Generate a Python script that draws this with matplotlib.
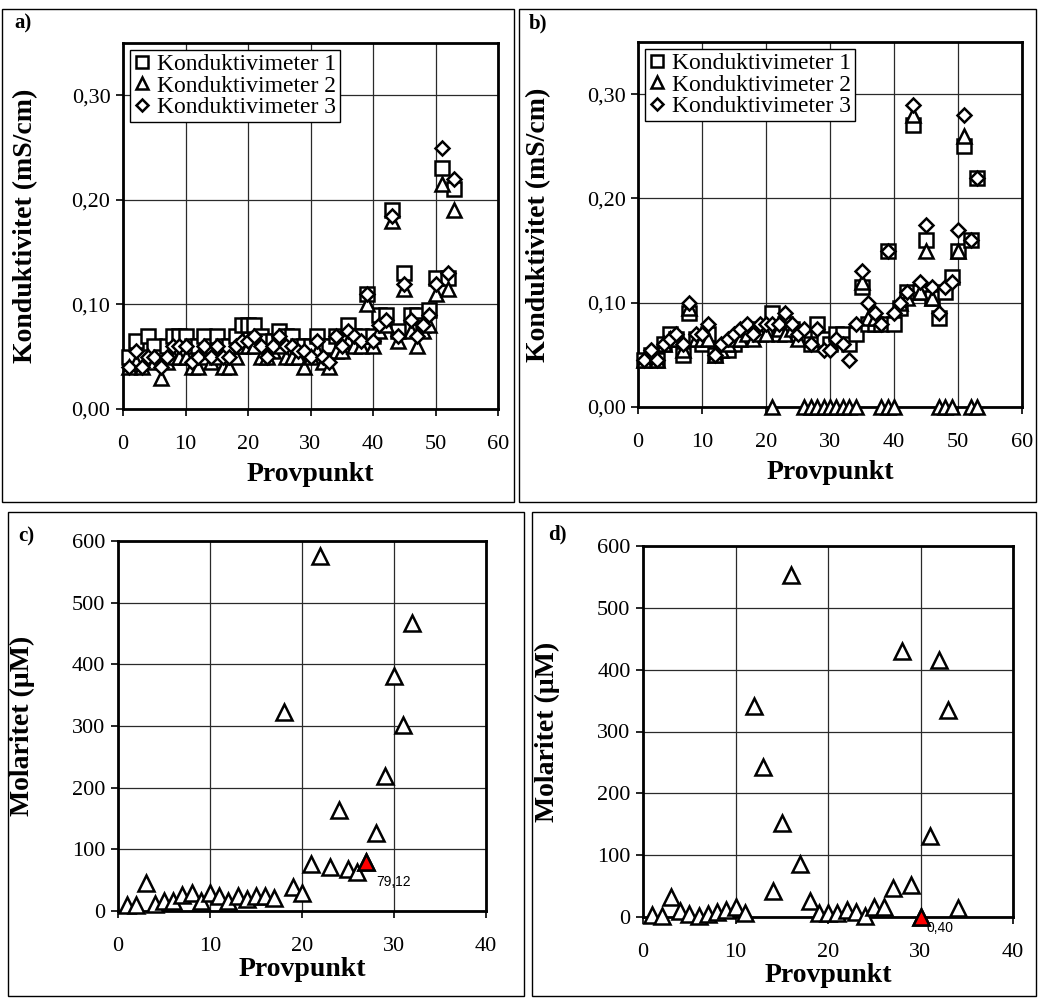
import matplotlib
matplotlib.use("Agg")
import matplotlib.pyplot as plt
from matplotlib.patches import Rectangle
from matplotlib.ticker import FuncFormatter

plt.rcParams["font.family"] = ["Liberation Serif", "DejaVu Serif"]

# ---------------------------------------------------------------------------
# Data
# ---------------------------------------------------------------------------
punkt_ab = list(range(1, 54))

a_k1 = [0.050, 0.065, 0.050, 0.070, 0.060, 0.050, 0.060, 0.070, 0.070, 0.070,
        0.060, 0.060, 0.070, 0.060, 0.070, 0.060, 0.060, 0.070, 0.080, 0.080,
        0.080, 0.070, 0.065, 0.065, 0.075, 0.070, 0.070, 0.060, 0.060, 0.060,
        0.070, 0.060, 0.060, 0.070, 0.065, 0.080, 0.070, 0.070, 0.110, 0.070,
        0.090, 0.090, 0.190, 0.075, 0.130, 0.090, 0.090, 0.080, 0.095, 0.125,
        0.230, 0.125, 0.210]
a_k2 = [0.040, 0.045, 0.040, 0.050, 0.045, 0.030, 0.045, 0.050, 0.050, 0.050,
        0.040, 0.040, 0.050, 0.045, 0.050, 0.040, 0.040, 0.050, 0.060, 0.060,
        0.060, 0.050, 0.050, 0.055, 0.060, 0.050, 0.050, 0.050, 0.040, 0.050,
        0.055, 0.045, 0.040, 0.055, 0.055, 0.065, 0.060, 0.060, 0.100, 0.060,
        0.075, 0.080, 0.180, 0.065, 0.115, 0.075, 0.060, 0.075, 0.080, 0.110,
        0.215, 0.115, 0.190]
a_k3 = [0.040, 0.055, 0.040, 0.050, 0.050, 0.040, 0.050, 0.060, 0.060, 0.060,
        0.045, 0.050, 0.060, 0.050, 0.060, 0.050, 0.050, 0.060, 0.065, 0.065,
        0.070, 0.060, 0.050, 0.060, 0.070, 0.060, 0.060, 0.055, 0.055, 0.050,
        0.065, 0.050, 0.045, 0.070, 0.060, 0.075, 0.070, 0.065, 0.110, 0.065,
        0.080, 0.085, 0.185, 0.070, 0.120, 0.085, 0.070, 0.080, 0.090, 0.120,
        0.250, 0.130, 0.220]

b_k1 = [0.045, 0.050, 0.045, 0.060, 0.070, 0.065, 0.050, 0.090, 0.065, 0.060,
        0.070, 0.050, 0.055, 0.055, 0.060, 0.065, 0.070, 0.070, 0.075, 0.075,
        0.090, 0.070, 0.080, 0.075, 0.070, 0.070, 0.060, 0.080, 0.065, 0.060,
        0.070, 0.070, 0.060, 0.070, 0.115, 0.080, 0.080, 0.080, 0.150, 0.080,
        0.095, 0.110, 0.270, 0.110, 0.160, 0.105, 0.085, 0.110, 0.125, 0.150,
        0.250, 0.160, 0.220]
b_k2 = [0.045, 0.050, 0.045, 0.060, 0.065, 0.065, 0.055, 0.095, 0.065, 0.065,
        0.065, 0.050, 0.055, 0.060, 0.065, 0.065, 0.070, 0.065, 0.070, 0.070,
        0.000, 0.075, 0.070, 0.075, 0.065, 0.000, 0.000, 0.000, 0.000, 0.000,
        0.000, 0.000, 0.000, 0.000, 0.120, 0.085, 0.085, 0.000, 0.000, 0.000,
        0.100, 0.105, 0.280, 0.110, 0.150, 0.105, 0.000, 0.000, 0.000, 0.150,
        0.260, 0.000, 0.000]
b_k3 = [0.045, 0.055, 0.045, 0.060, 0.065, 0.070, 0.060, 0.100, 0.070, 0.070,
        0.080, 0.050, 0.060, 0.065, 0.070, 0.075, 0.080, 0.070, 0.080, 0.080,
        0.080, 0.080, 0.090, 0.080, 0.070, 0.075, 0.060, 0.075, 0.055, 0.055,
        0.065, 0.060, 0.045, 0.080, 0.130, 0.100, 0.090, 0.080, 0.150, 0.090,
        0.100, 0.110, 0.290, 0.120, 0.175, 0.115, 0.090, 0.115, 0.120, 0.170,
        0.280, 0.160, 0.220]

punkt_c = list(range(1, 33))
c_mol = [10, 10, 46, 12, 17, 16, 26, 30, 17, 30, 25, 16, 24, 19, 24, 24, 21,
         323, 39, 30, 76, 576, 71, 163, 68, 64, 79.12, 126, 219, 381, 302, 467]
c_red_x = 27
c_red_y = 79.12
c_red_label = "79,12"

punkt_d = [1, 2, 3, 4, 5, 6, 7, 8, 9, 10, 11, 12, 13, 14, 15, 16, 17, 18, 19,
           20, 21, 22, 23, 24, 25, 26, 27, 28, 29, 30, 31, 32, 33, 34]
d_mol = [3, 2, 32, 9, 5, 2, 5, 8, 11, 16, 7, 342, 242, 42, 152, 553, 85, 26,
         7, 7, 7, 11, 8, 1, 16, 16, 47, 430, 51, 0.40, 131, 416, 335, 15]
d_red_x = 30
d_red_y = 0.40
d_red_label = "0,40"

LEGEND = ["Konduktivimeter 1", "Konduktivimeter 2", "Konduktivimeter 3"]

# ---------------------------------------------------------------------------
# Style
# ---------------------------------------------------------------------------
FIG_W, FIG_H = 1038, 998
TICK_FS = 16
LABEL_FS = 20
GRID_KW = dict(color="#2a2a2a", linewidth=0.9, zorder=0)
MK = dict(linestyle="none", markerfacecolor="white", markeredgecolor="black",
          markeredgewidth=1.8, clip_on=False, zorder=3)


def px_rect(left, top, right, bottom):
    """pixel box (origin top-left) -> figure fraction [l, b, w, h]"""
    return [left / FIG_W, 1 - bottom / FIG_H,
            (right - left) / FIG_W, (bottom - top) / FIG_H]


def style_axes(ax, xmax, xstep, ymax, yticks, yfmt):
    ax.set_xlim(0, xmax)
    ax.set_ylim(0, ymax)
    ax.set_xticks(range(0, xmax + 1, xstep))
    ax.set_yticks(yticks)
    ax.yaxis.set_major_formatter(FuncFormatter(yfmt))
    ax.grid(True, **GRID_KW)
    ax.set_axisbelow(True)
    for sp in ax.spines.values():
        sp.set_linewidth(2.0)
    ax.tick_params(axis="x", direction="out", length=5, width=1.2,
                   labelsize=TICK_FS, pad=14)
    ax.tick_params(axis="y", direction="out", length=5, width=1.2,
                   labelsize=TICK_FS, pad=4)


def cond_fmt(v, _):
    return f"{v:.2f}".replace(".", ",")


def mol_fmt(v, _):
    return f"{v:.0f}"


fig = plt.figure(figsize=(FIG_W / 100, FIG_H / 100), dpi=100)

# panel frames
for l, t, r, b in [(2, 9, 514, 502), (519, 9, 1036, 502),
                   (8, 512, 524, 996), (532, 512, 1036, 996)]:
    fig.patches.append(Rectangle((l / FIG_W, 1 - b / FIG_H), (r - l) / FIG_W,
                                 (b - t) / FIG_H, transform=fig.transFigure,
                                 fill=False, edgecolor="black", linewidth=1.0))

# ---------------------------------------------------------------------------
# a) and b): conductivity
# ---------------------------------------------------------------------------
cond_panels = [
    ("a)", px_rect(123, 43, 498, 409), (a_k1, a_k2, a_k3), (14, 23)),
    ("b)", px_rect(638, 42, 1022, 407), (b_k1, b_k2, b_k3), (529, 23)),
]
for tag, rect, (k1, k2, k3), tagpos in cond_panels:
    ax = fig.add_axes(rect)
    ax.plot(punkt_ab, k1, marker="s", markersize=9.5, label=LEGEND[0], **MK)
    ax.plot(punkt_ab, k2, marker="^", markersize=10.5, label=LEGEND[1], **MK)
    ax.plot(punkt_ab, k3, marker="D", markersize=7.5, label=LEGEND[2], **MK)
    style_axes(ax, 60, 10, 0.35, [0.0, 0.1, 0.2, 0.3], cond_fmt)
    ax.set_xlabel("Provpunkt", fontsize=LABEL_FS, fontweight="bold")
    ax.xaxis.set_label_coords(0.5, -0.145)
    ax.set_ylabel("Konduktivitet (mS/cm)", fontsize=LABEL_FS,
                  fontweight="bold")
    ax.yaxis.set_label_coords(-0.225, 0.5)
    leg = ax.legend(loc="upper left", bbox_to_anchor=(0.0, 1.0),
                    fontsize=17, frameon=True, fancybox=False,
                    edgecolor="black", framealpha=1, borderpad=0.15,
                    labelspacing=0.0, handlelength=0.7, handletextpad=0.3,
                    borderaxespad=0.3, markerscale=0.85)
    leg.get_frame().set_linewidth(1.0)
    fig.text(tagpos[0] / FIG_W, 1 - tagpos[1] / FIG_H, tag, fontsize=15,
             fontweight="bold", ha="left", va="center")

# ---------------------------------------------------------------------------
# c) and d): molarity
# ---------------------------------------------------------------------------
mol_panels = [
    ("c)", px_rect(118, 541, 486, 911), punkt_c, c_mol,
     (c_red_x, c_red_y, c_red_label), (18, 536), (7, -14)),
    ("d)", px_rect(643, 546, 1013, 917), punkt_d, d_mol,
     (d_red_x, d_red_y, d_red_label), (548, 534), (4, -8)),
]
for tag, rect, xs, ys, (rx, ry, rlab), tagpos, off in mol_panels:
    ax = fig.add_axes(rect)
    ax.plot(xs, ys, marker="^", markersize=11, **MK)
    ax.plot([rx], [ry], marker="^", markersize=11, linestyle="none",
            markerfacecolor="red", markeredgecolor="black",
            markeredgewidth=1.8, clip_on=False, zorder=4)
    ax.annotate(rlab, (rx, ry), xytext=off, textcoords="offset points",
                fontsize=10, family="Liberation Sans", ha="left", va="center")
    style_axes(ax, 40, 10, 600, list(range(0, 601, 100)), mol_fmt)
    ax.set_xlabel("Provpunkt", fontsize=LABEL_FS, fontweight="bold")
    ax.xaxis.set_label_coords(0.5, -0.125)
    ax.set_ylabel("Molaritet (µM)", fontsize=LABEL_FS, fontweight="bold")
    ax.yaxis.set_label_coords(-0.225, 0.5)
    fig.text(tagpos[0] / FIG_W, 1 - tagpos[1] / FIG_H, tag, fontsize=15,
             fontweight="bold", ha="left", va="center")

fig.savefig("out.png", dpi=100)
